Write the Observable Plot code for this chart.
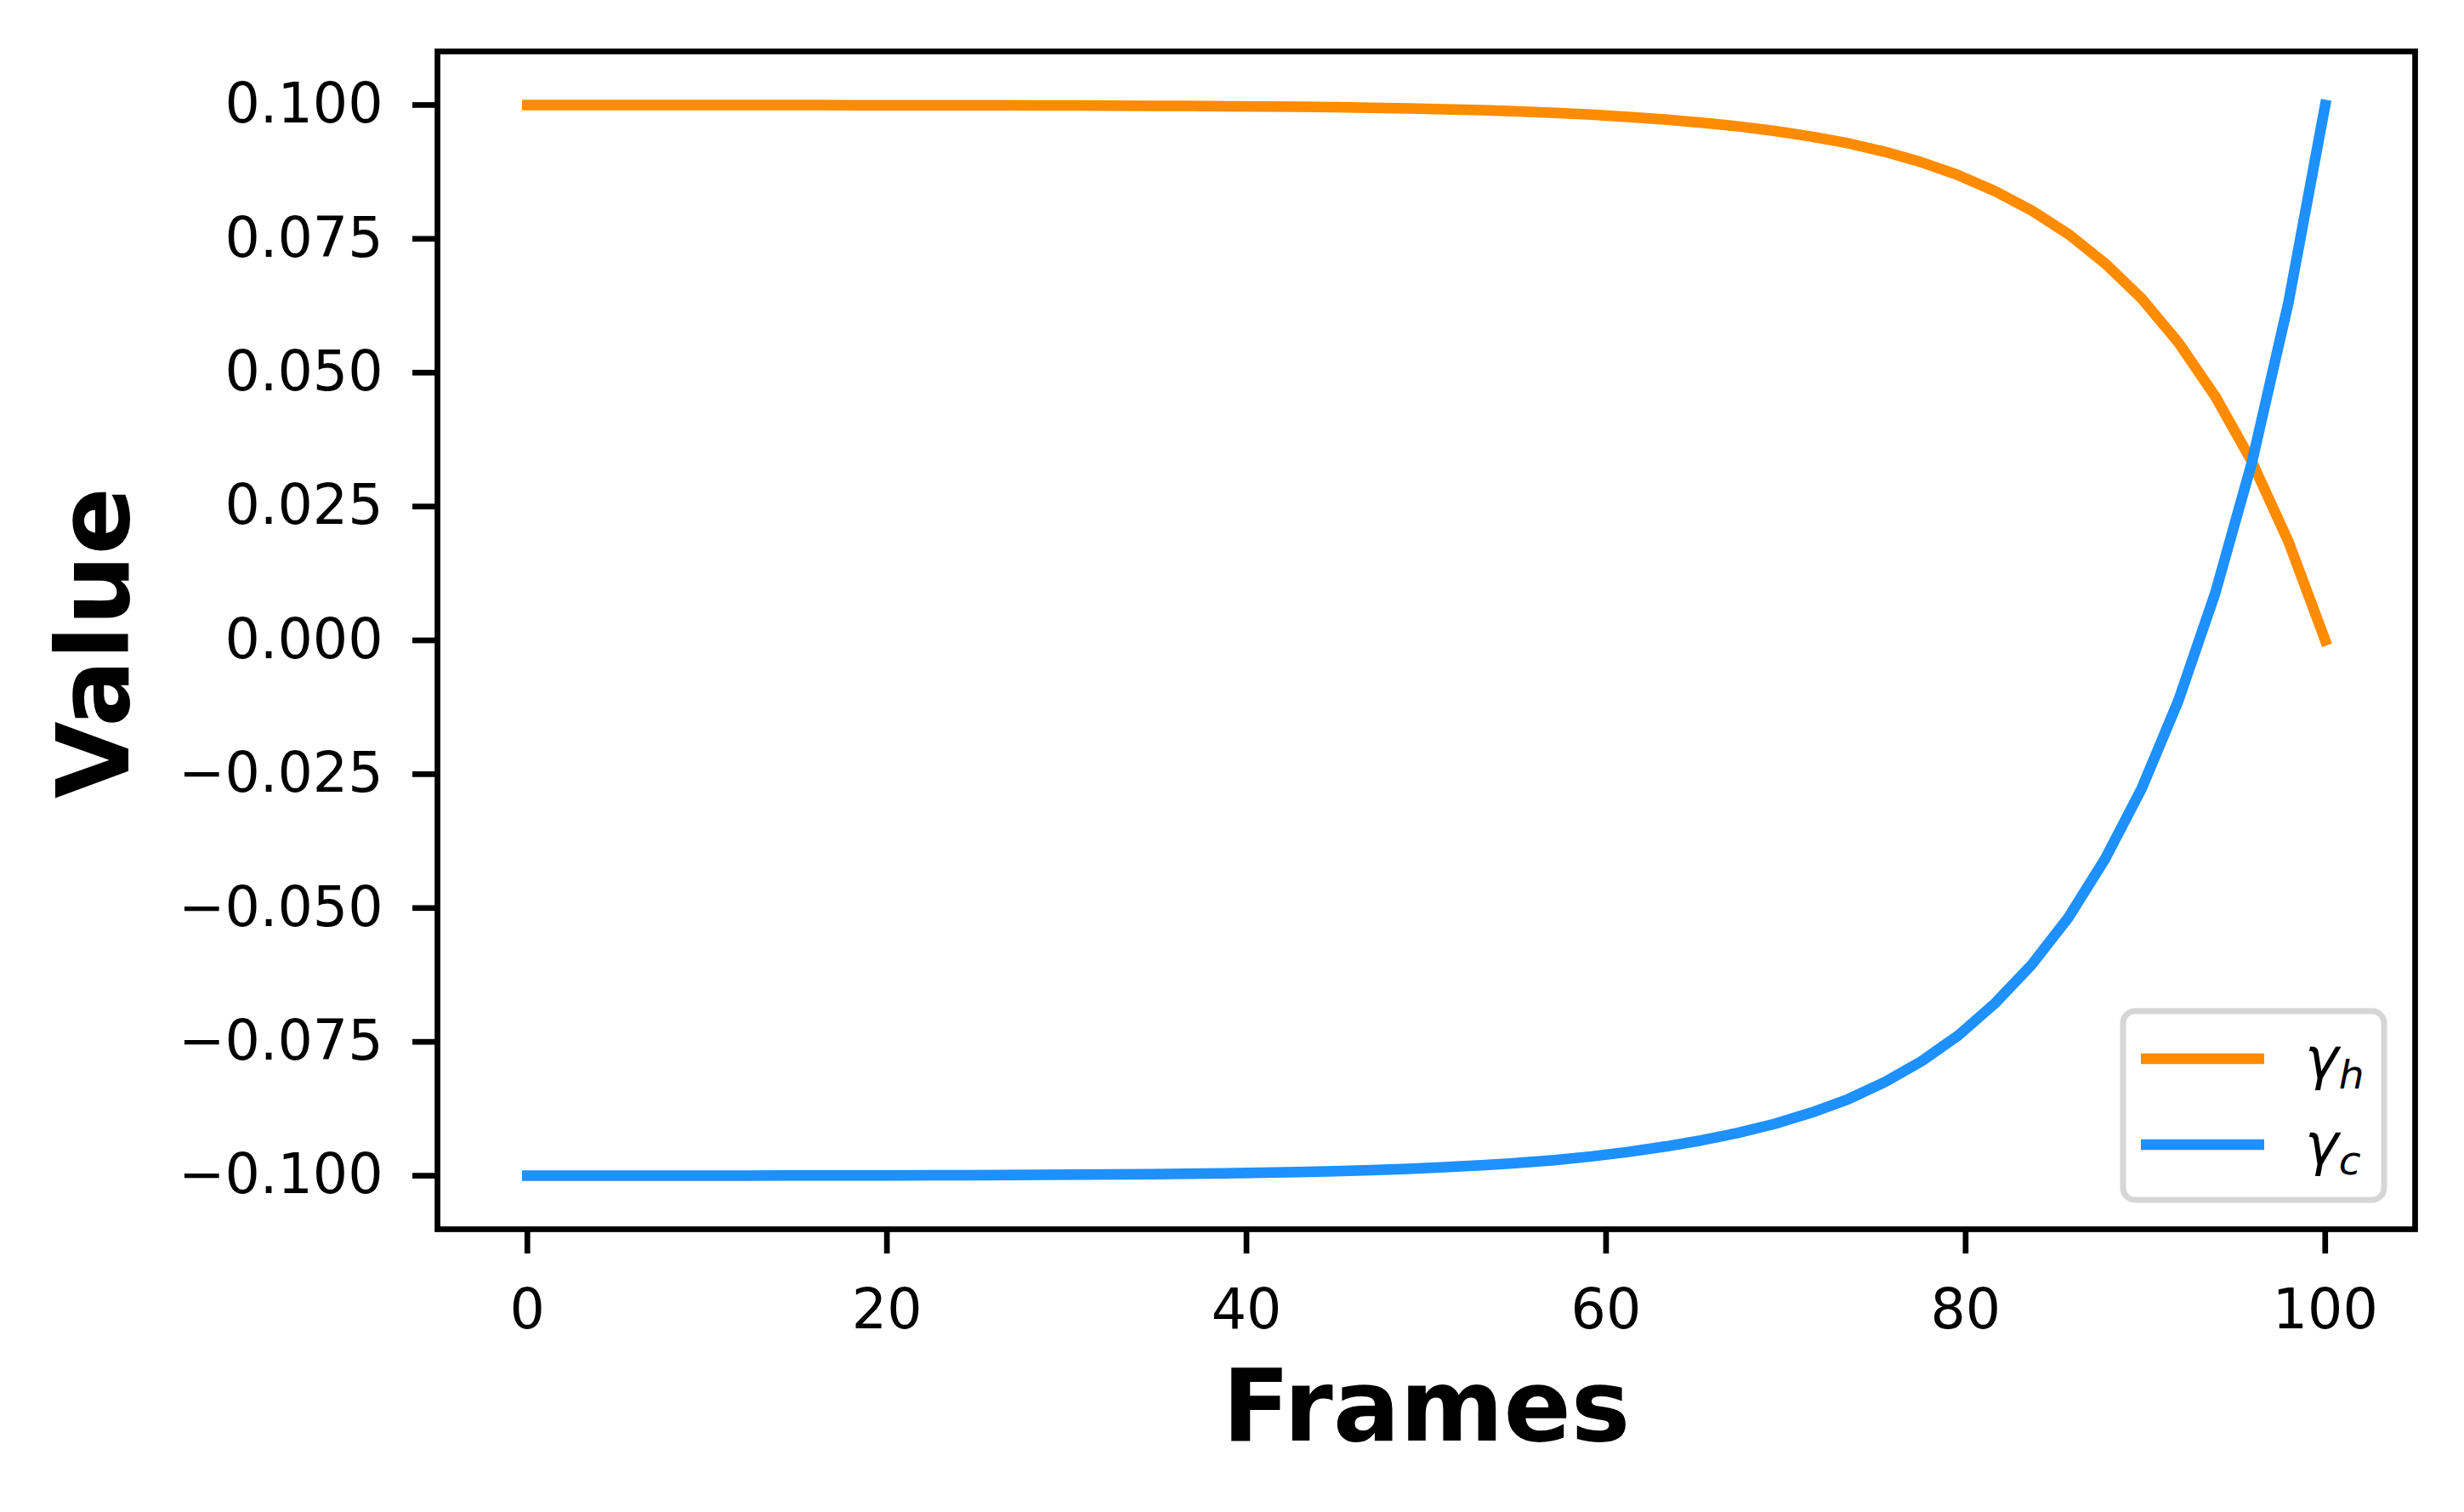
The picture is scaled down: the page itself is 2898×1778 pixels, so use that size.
<!DOCTYPE html>
<html>
<head>
<meta charset="utf-8">
<script src="https://cdn.jsdelivr.net/npm/d3@7"></script>
<script src="https://cdn.jsdelivr.net/npm/@observablehq/plot@0.6"></script>
<style>
  html, body { margin: 0; padding: 0; background: #fff; }
  #chart svg { display: block; }
</style>
</head>
<body>
<div id="chart"></div>
<script>
const frames = [0, 2.04, 4.08, 6.12, 8.16, 10.20, 12.24, 14.29, 16.33, 18.37,
  20.41, 22.45, 24.49, 26.53, 28.57, 30.61, 32.65, 34.69, 36.73, 38.78,
  40.82, 42.86, 44.90, 46.94, 48.98, 51.02, 53.06, 55.10, 57.14, 59.18,
  61.22, 63.27, 65.31, 67.35, 69.39, 71.43, 73.47, 75.51, 77.55, 79.59,
  81.63, 83.67, 85.71, 87.76, 89.80, 91.84, 93.88, 95.92, 97.96, 100];

const gammaH = [0.1000, 0.1000, 0.1000, 0.1000, 0.1000, 0.09999, 0.09999, 0.09998, 0.09998, 0.09997,
  0.09997, 0.09996, 0.09995, 0.09994, 0.09992, 0.09990, 0.09988, 0.09985, 0.09982, 0.09977,
  0.09972, 0.09966, 0.09958, 0.09948, 0.09936, 0.09921, 0.09903, 0.09881, 0.09854, 0.09820,
  0.09778, 0.09728, 0.09670, 0.09600, 0.09515, 0.09410, 0.09285, 0.09125, 0.08930, 0.08690,
  0.08390, 0.08030, 0.07590, 0.07040, 0.06380, 0.05560, 0.04560, 0.03340, 0.01840, 0.0000];

const gammaC = [-0.1000, -0.1000, -0.1000, -0.1000, -0.1000, -0.09998, -0.09998, -0.09996, -0.09996, -0.09994,
  -0.09994, -0.09992, -0.09990, -0.09988, -0.09984, -0.09980, -0.09976, -0.09970, -0.09964, -0.09954,
  -0.09944, -0.09932, -0.09916, -0.09896, -0.09872, -0.09842, -0.09806, -0.09762, -0.09708, -0.09640,
  -0.09556, -0.09456, -0.09340, -0.09200, -0.09030, -0.08820, -0.08570, -0.08250, -0.07860, -0.07380,
  -0.06780, -0.06060, -0.05180, -0.04080, -0.02760, -0.01120, 0.00880, 0.03320, 0.06320, 0.1000];

const xTicks = [0, 20, 40, 60, 80, 100];
const yTicks = [-0.1, -0.075, -0.05, -0.025, 0, 0.025, 0.05, 0.075, 0.1];
const xLabel = "Frames";
const yLabel = "Value";
const seriesNames = ["h", "c"];
const seriesColors = ["#FF8C00", "#1E90FF"];

const dataH = frames.map((f, i) => ({frame: f, value: gammaH[i]}));
const dataC = frames.map((f, i) => ({frame: f, value: gammaC[i]}));

const W = 2898, H = 1778;
const mL = 514, mR = 58, mT = 60, mB = 333;
const font = "DejaVu Sans, Liberation Sans, sans-serif";

const chart = Plot.plot({
  width: W,
  height: H,
  marginLeft: mL,
  marginRight: mR,
  marginTop: mT,
  marginBottom: mB,
  style: {fontFamily: font, color: "black", background: "white", overflow: "visible"},
  x: {domain: [-5, 105], label: null},
  y: {domain: [-0.11, 0.11], label: null},
  marks: [
    Plot.line(dataH, {x: "frame", y: "value", stroke: seriesColors[0], strokeWidth: 12.5, strokeLinecap: "square", strokeLinejoin: "round"}),
    Plot.line(dataC, {x: "frame", y: "value", stroke: seriesColors[1], strokeWidth: 12.5, strokeLinecap: "square", strokeLinejoin: "round"}),
    Plot.axisX({ticks: xTicks, tickSize: 29, tickPadding: 41, fontSize: 65, strokeWidth: 6.7, tickFormat: d3.format("d"), label: null, stroke: "black", fill: "black"}),
    Plot.axisY({ticks: yTicks, tickSize: 29, tickPadding: 35, fontSize: 65, strokeWidth: 6.7, tickFormat: d3.format(".3f"), label: null, stroke: "black", fill: "black"}),
    Plot.frame({stroke: "black", strokeWidth: 6.7}),
    Plot.text([xLabel], {frameAnchor: "bottom", dy: 248, lineAnchor: "bottom", textAnchor: "middle", text: d => d, fontSize: 117, fontWeight: "bold", fill: "black"}),
    Plot.text([yLabel], {frameAnchor: "left", dx: -364, dy: 3, rotate: -90, lineAnchor: "bottom", textAnchor: "middle", text: d => d, fontSize: 117, fontWeight: "bold", fill: "black"})
  ]
});

document.getElementById("chart").appendChild(chart);

// Legend (lower right, inside the frame)
const svg = d3.select(chart);
const lg = svg.append("g").attr("font-family", font).attr("text-anchor", "start");
lg.append("rect")
  .attr("x", 2497).attr("y", 1189).attr("width", 307).attr("height", 222)
  .attr("rx", 14).attr("ry", 14)
  .attr("fill", "white").attr("fill-opacity", 0.8)
  .attr("stroke", "#d6d6d6").attr("stroke-width", 7);
seriesNames.forEach((name, i) => {
  const y = 1245 + i * 101;
  lg.append("line")
    .attr("x1", 2518).attr("x2", 2663).attr("y1", y).attr("y2", y)
    .attr("stroke", seriesColors[i]).attr("stroke-width", 12.5);
  const t = lg.append("text")
    .attr("x", 2711).attr("y", y + 23)
    .attr("text-anchor", "start")
    .attr("font-size", 67).attr("font-style", "italic").attr("fill", "black");
  t.append("tspan").text("γ");
  t.append("tspan").attr("dy", 12).attr("font-size", 47).text(name);
});
</script>
</body>
</html>
